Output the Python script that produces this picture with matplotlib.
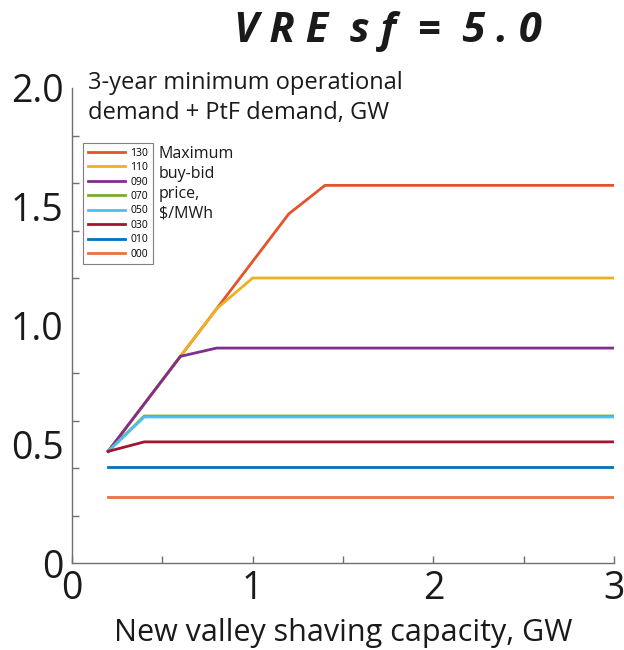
import matplotlib
matplotlib.use("Agg")
import matplotlib.pyplot as plt
from matplotlib.ticker import FixedLocator

plt.rcParams['font.family'] = ['Open Sans', 'DejaVu Sans']

# Maximum buy-bid price levels ($/MWh) and their breakpoints
labels = ['130', '110', '090', '070', '050', '030', '010', '000']
colors = ['#E4532A', '#EDB120', '#7E2F8E', '#77AC30', '#4DBEEE', '#A2142F', '#0072BD', '#EB7142']

capacity = {
    '130': [0.2, 0.6, 0.8, 1.2, 1.4, 3.0],
    '110': [0.2, 0.6, 0.8, 1.0, 3.0],
    '090': [0.2, 0.6, 0.8, 3.0],
    '070': [0.2, 0.4, 3.0],
    '050': [0.2, 0.4, 3.0],
    '030': [0.2, 0.4, 3.0],
    '010': [0.2, 3.0],
    '000': [0.2, 3.0],
}
demand = {
    '130': [0.47, 0.87, 1.07, 1.47, 1.59, 1.59],
    '110': [0.47, 0.87, 1.07, 1.20, 1.20],
    '090': [0.47, 0.87, 0.905, 0.905],
    '070': [0.47, 0.619, 0.619],
    '050': [0.47, 0.615, 0.615],
    '030': [0.47, 0.51, 0.51],
    '010': [0.405, 0.405],
    '000': [0.28, 0.28],
}

fig = plt.figure(figsize=(6.24, 6.5), dpi=100)
ax = fig.add_axes([72/624, 1-563/650, 542/624, 475/650])

# highest price first, so lower-price lines are drawn over shared segments
for lab, col in zip(labels, colors):
    ax.plot(capacity[lab], demand[lab], color=col, lw=2.0, label=lab,
            solid_joinstyle='miter')

ax.set_xlim(0, 3)
ax.set_ylim(0, 2.0)

for s in ['top', 'right']:
    ax.spines[s].set_visible(False)
for s in ['left', 'bottom']:
    ax.spines[s].set_color('#6f6f6f')
    ax.spines[s].set_linewidth(1.0)

ax.xaxis.set_major_locator(FixedLocator([0, 1, 2, 3]))
ax.xaxis.set_minor_locator(FixedLocator([0.5, 1.5, 2.5]))
ax.yaxis.set_major_locator(FixedLocator([0, 0.5, 1.0, 1.5, 2.0]))
ax.yaxis.set_minor_locator(FixedLocator([0.2, 0.4, 0.6, 0.8, 1.0, 1.2, 1.4, 1.6, 1.8]))
ax.set_xticklabels(['0', '1', '2', '3'])
ax.set_yticklabels(['0', '0.5', '1.0', '1.5', '2.0'])

ax.tick_params(axis='x', which='both', direction='in', length=5, width=1,
               color='#6f6f6f', labelsize=27, pad=5, labelcolor='#1a1a1a')
ax.tick_params(axis='y', which='major', length=0, labelsize=27, pad=6,
               labelcolor='#1a1a1a')
ax.tick_params(axis='y', which='minor', direction='in', length=5, width=1,
               color='#6f6f6f')

ax.set_xlabel('New valley shaving capacity, GW', fontsize=22, color='#1a1a1a',
              labelpad=7)

fig.text(388/624, 1-31/650, 'V R E  s f  =  5 . 0', fontsize=30, fontweight='bold',
         fontstyle='italic', ha='center', va='center', color='#1a1a1a')

fig.text(88/624, 1-98/650, '3-year minimum operational\ndemand + PtF demand, GW',
         fontsize=17, ha='left', va='center', color='#1a1a1a', linespacing=1.3)

handles, labs = ax.get_legend_handles_labels()
leg = ax.legend(handles, labs,
                loc='upper left', bbox_to_anchor=(83/624, 1-143/650),
                bbox_transform=fig.transFigure, borderaxespad=0,
                fontsize=7.5, handlelength=3.6, handletextpad=0.5,
                labelspacing=0.33, borderpad=0.45, fancybox=False,
                framealpha=1)
leg.get_frame().set_edgecolor('#7f7f7f')
leg.get_frame().set_linewidth(0.8)

fig.text(159/624, 1-184/650, 'Maximum\nbuy-bid\nprice,\n$/MWh', fontsize=11.5,
         ha='left', va='center', color='#1a1a1a', linespacing=1.32)

fig.savefig('out.png', dpi=100)
